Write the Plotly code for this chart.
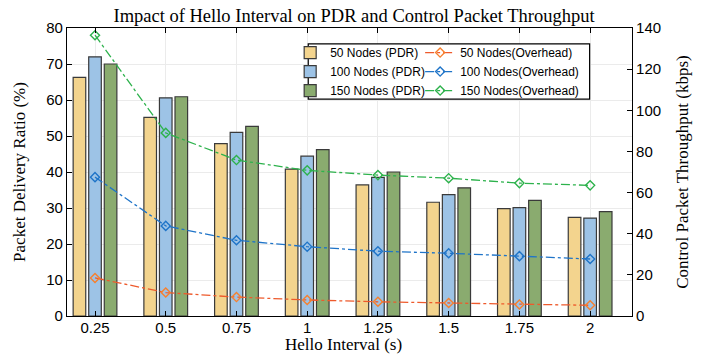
import plotly.graph_objects as go

# ---- data ----
hello_interval = [0.25, 0.5, 0.75, 1.0, 1.25, 1.5, 1.75, 2.0]
tick_labels = ["0.25", "0.5", "0.75", "1", "1.25", "1.5", "1.75", "2"]

pdr_50 = [66.3, 55.2, 47.9, 40.8, 36.4, 31.6, 29.8, 27.4]
pdr_100 = [72.0, 60.6, 51.0, 44.4, 38.5, 33.7, 30.1, 27.2]
pdr_150 = [70.0, 60.9, 52.7, 46.2, 40.0, 35.6, 32.1, 29.0]

oh_50 = [18.5, 11.4, 9.2, 7.8, 6.9, 6.3, 5.6, 5.2]
oh_100 = [67.5, 43.8, 36.8, 33.7, 31.5, 30.5, 29.1, 27.7]
oh_150 = [136.5, 89.0, 75.8, 70.8, 68.5, 67.0, 64.6, 63.5]

bar_names = ["50 Nodes (PDR)", "100 Nodes (PDR)", "150 Nodes (PDR)"]
line_names = ["50 Nodes(Overhead)", "100 Nodes(Overhead)", "150 Nodes(Overhead)"]

bar_colors = ["#F3D48E", "#9DC3E6", "#8AAB6F"]
line_colors = ["#EE5A2C", "#1F74C8", "#2DB24C"]
marker_colors = ["#F7802E", "#1F74C8", "#2DB24C"]

fig = go.Figure()

for name, vals, col in zip(bar_names, [pdr_50, pdr_100, pdr_150], bar_colors):
    fig.add_trace(go.Bar(
        x=hello_interval, y=vals, name=name,
        marker=dict(color=col, line=dict(color="#3a3a3a", width=1.2)),
        legend="legend", yaxis="y",
    ))

for name, vals, lc, mc in zip(line_names, [oh_50, oh_100, oh_150], line_colors, marker_colors):
    fig.add_trace(go.Scatter(
        x=hello_interval, y=vals, name=name, mode="lines+markers",
        line=dict(color=lc, width=1.3, dash="dashdot"),
        marker=dict(symbol="diamond-open", size=7, color=mc, line=dict(width=1.4, color=mc)),
        legend="legend2", yaxis="y2",
    ))

sans = "Liberation Sans, Arial, sans-serif"
serif = "Liberation Serif, Times New Roman, serif"

fig.update_layout(
    width=713, height=354,
    margin=dict(l=67, r=81, t=27.5, b=37.5),
    paper_bgcolor="white", plot_bgcolor="white",
    barmode="group", bargap=0.34, bargroupgap=0.19,
    showlegend=True,
    title=dict(text="Impact of Hello Interval on PDR and Control Packet Throughput",
               x=0.508, xref="paper", xanchor="center", y=0.956, yref="container", yanchor="middle",
               font=dict(family=serif, size=18.5, color="black")),
    xaxis=dict(
        range=[0.151, 2.148], tickmode="array", tickvals=hello_interval, ticktext=tick_labels,
        showline=True, linecolor="black", linewidth=1.2, mirror="ticks",
        ticks="inside", ticklen=5, tickcolor="black", ticklabelstandoff=-2,
        showgrid=True, gridcolor="#ebebeb", gridwidth=1, zeroline=False,
        tickfont=dict(family=sans, size=15, color="black"),
    ),
    yaxis=dict(
        range=[0, 80], dtick=10,
        showline=True, linecolor="black", linewidth=1.2, mirror=False,
        ticks="inside", ticklen=5, tickcolor="black",
        showgrid=True, gridcolor="#ebebeb", gridwidth=1, zeroline=False,
        tickfont=dict(family=sans, size=15, color="black"),
        title=dict(text="Packet Delivery Ratio (%)", standoff=16,
                   font=dict(family=serif, size=17, color="black")),
    ),
    yaxis2=dict(
        range=[0, 140], dtick=20, overlaying="y", side="right",
        showline=True, linecolor="black", linewidth=1.2,
        ticks="inside", ticklen=5, tickcolor="black",
        showgrid=False, zeroline=False,
        tickfont=dict(family=sans, size=15, color="black"),
        title=dict(text="Control Packet Throughput (kbps)", standoff=15,
                   font=dict(family=serif, size=17, color="black")),
    ),
    legend=dict(x=0.395, y=0.965, xanchor="left", yanchor="top", bgcolor="rgba(0,0,0,0)",
                borderwidth=0, font=dict(family=sans, size=12, color="black"),
                traceorder="normal"),
    legend2=dict(x=0.625, y=0.965, xanchor="left", yanchor="top", bgcolor="rgba(0,0,0,0)",
                 borderwidth=0, font=dict(family=sans, size=12, color="black"),
                 traceorder="normal"),
    shapes=[dict(type="rect", xref="paper", yref="paper", x0=0.427, x1=0.925, y0=0.753, y1=0.945,
                 line=dict(color="black", width=1.2), fillcolor="white", layer="above")],
    annotations=[dict(text="Hello Interval (s)", xref="paper", yref="paper", x=0.49, y=-0.1,
                      xanchor="center", yanchor="middle", showarrow=False,
                      font=dict(family=serif, size=17, color="black"))],
)

fig.write_html("out.html")
